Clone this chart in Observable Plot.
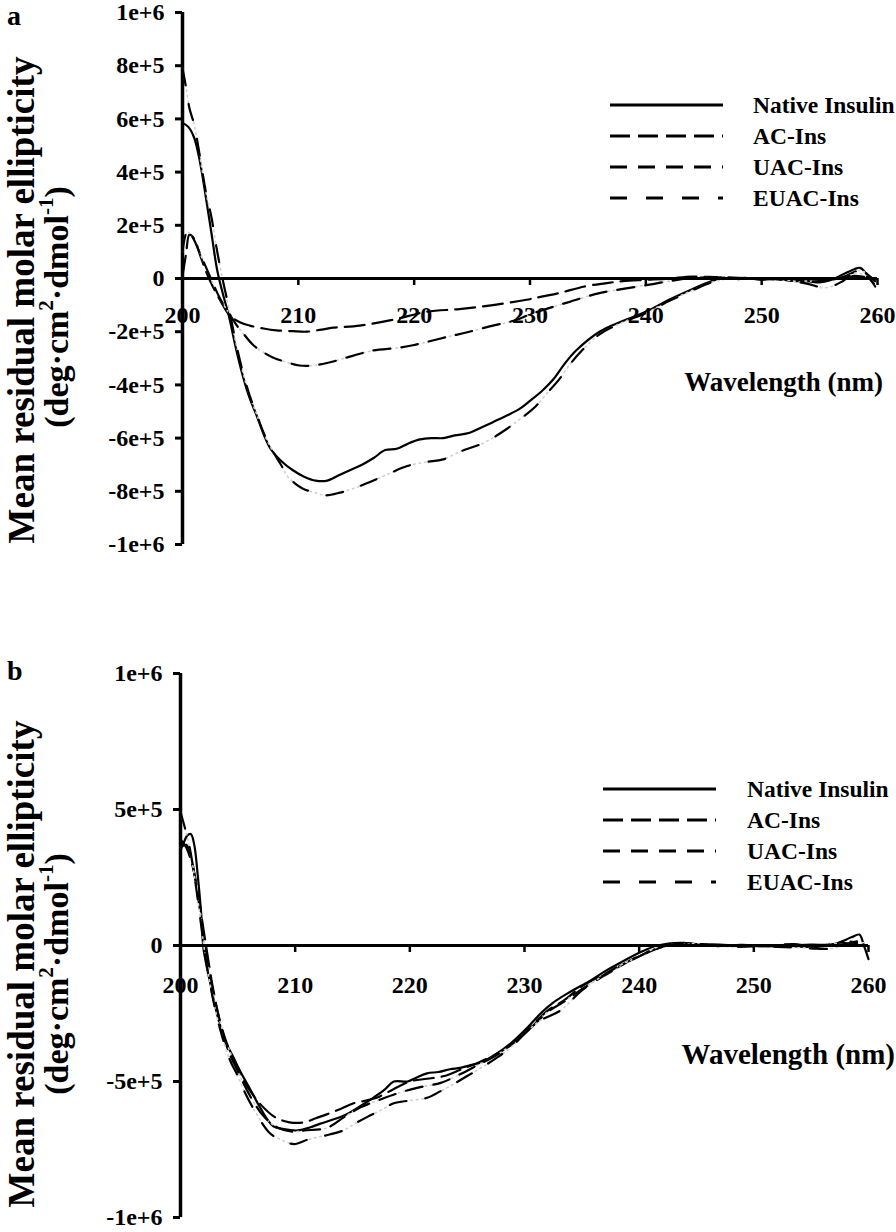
<!DOCTYPE html>
<html>
<head>
<meta charset="utf-8">
<script src="https://cdn.jsdelivr.net/npm/d3@7"></script>
<script src="https://cdn.jsdelivr.net/npm/@observablehq/plot@0.6"></script>
<style>
  html, body { margin: 0; padding: 0; background: #fff; }
  #page { position: relative; width: 896px; height: 1232px; background: #fff; overflow: hidden;
          font-family: "Liberation Serif", "Times New Roman", serif; font-weight: bold; color: #000; }
  .abs { position: absolute; white-space: nowrap; line-height: 1; }
  .ytitle { position: absolute; white-space: nowrap; line-height: 1; transform: translate(-50%, -50%) rotate(-90deg); }
  .ytitle sup { font-size: 0.62em; vertical-align: 0.7em; line-height: 0; }
  .legrow { position: absolute; display: flex; align-items: center; white-space: nowrap; }
  .legrow span { font-size: 23.5px; }
</style>
</head>
<body>
<div id="page">
  <div id="pa" style="position:absolute;left:0;top:0"></div>
  <div id="pb" style="position:absolute;left:0;top:620px"></div>
</div>
<script>
// ---------------- data ----------------
const seriesNames = ["Native Insulin", "AC-Ins", "UAC-Ins", "EUAC-Ins"];
const xTicks = [200, 210, 220, 230, 240, 250, 260];
const yTicksA = [1e6, 8e5, 6e5, 4e5, 2e5, 0, -2e5, -4e5, -6e5, -8e5, -1e6];
const yTicksB = [1e6, 5e5, 0, -5e5, -1e6];
const panelLetters = ["a", "b"];
const xLabel = "Wavelength (nm)";
const yLabel1 = "Mean residual molar ellipticity";
const yLabel2 = "(deg·cm<sup>2</sup>·dmol<sup>-1</sup>)";

// Panel a: [wavelength (nm), ellipticity]
const aNative = [[200,5.85e5],[200.5,5.7e5],[201,5.3e5],[201.5,4.4e5],[202,3.1e5],[202.5,1.7e5],[203,0.3e5],[203.5,-0.6e5],[204,-1.4e5],[204.6,-2.6e5],[205.2,-3.65e5],[205.8,-4.5e5],[206.4,-5.15e5],[207,-5.85e5],[207.6,-6.4e5],[208.5,-6.85e5],[209.5,-7.2e5],[210.5,-7.45e5],[211.5,-7.6e5],[212.5,-7.6e5],[213.5,-7.4e5],[214.5,-7.2e5],[215.5,-7.0e5],[216.5,-6.75e5],[217.5,-6.45e5],[218.5,-6.4e5],[219.5,-6.2e5],[220.5,-6.05e5],[221.5,-6.0e5],[222.5,-6.0e5],[223.5,-5.9e5],[224.8,-5.8e5],[225.8,-5.6e5],[226.8,-5.4e5],[228,-5.15e5],[229.1,-4.9e5],[230,-4.6e5],[231.1,-4.2e5],[232,-3.8e5],[233,-3.2e5],[234,-2.7e5],[236,-2.0e5],[238,-1.6e5],[240,-1.25e5],[242,-0.8e5],[244,-0.4e5],[246,-0.05e5],[247,0],[248,-0.02e5],[249,0],[250,-0.05e5],[251,0],[252,-0.05e5],[253,-0.1e5],[254,-0.1e5],[255,-0.15e5],[256,-0.05e5],[257,0.15e5],[258,0.35e5],[258.5,0.4e5],[259,0.2e5],[259.5,-0.1e5],[259.8,-0.3e5]];
const aAC = [[200,0.1e5],[200.3,0.9e5],[200.6,1.65e5],[201,1.5e5],[201.5,0.9e5],[202,0.3e5],[202.5,-0.2e5],[203.1,-0.7e5],[204.1,-1.4e5],[205,-1.65e5],[205.8,-1.77e5],[207,-1.88e5],[208.1,-1.95e5],[209.5,-1.98e5],[210.7,-2.0e5],[212,-1.92e5],[213,-1.85e5],[215.3,-1.77e5],[218.2,-1.55e5],[221.1,-1.25e5],[223.9,-1.15e5],[226.8,-1.0e5],[229.7,-0.8e5],[231,-0.68e5],[232.5,-0.55e5],[234.7,-0.3e5],[236.5,-0.18e5],[238,-0.1e5],[240,-0.05e5],[242,0],[244,0.07e5],[246,0.05e5],[248,0],[250,0],[252,-0.05e5],[254,-0.1e5],[256,-0.05e5],[258,0.1e5],[259.5,0]];
const aUAC = [[200,1.0e5],[200.4,1.75e5],[200.8,1.6e5],[201.5,0.95e5],[202.2,0.25e5],[202.8,-0.35e5],[203.3,-0.8e5],[204,-1.3e5],[204.7,-1.77e5],[205.4,-2.15e5],[206.1,-2.5e5],[207,-2.78e5],[207.8,-2.97e5],[209,-3.15e5],[210.1,-3.27e5],[211,-3.28e5],[211.9,-3.23e5],[213,-3.12e5],[214.2,-2.97e5],[215.4,-2.82e5],[216.5,-2.7e5],[218.7,-2.6e5],[220,-2.5e5],[221.6,-2.33e5],[223,-2.18e5],[224.5,-2.03e5],[226.8,-1.77e5],[228.5,-1.6e5],[230,-1.35e5],[231,-1.2e5],[232.5,-1.0e5],[234.2,-0.77e5],[236,-0.55e5],[237.9,-0.4e5],[240.3,-0.23e5],[242,-0.1e5],[243.7,0],[246,0.05e5],[249,0],[252,-0.05e5],[255,-0.1e5],[257,0.05e5],[258.5,0.3e5],[259.3,0.1e5],[259.8,-0.1e5]];
const aEUAC = [[200,7.9e5],[200.3,7.2e5],[200.6,6.4e5],[201,5.8e5],[201.5,4.6e5],[202,3.3e5],[202.5,2.3e5],[203,1.0e5],[203.5,-0.1e5],[204,-1.1e5],[204.6,-2.4e5],[205.2,-3.5e5],[205.8,-4.4e5],[206.4,-5.1e5],[207,-5.8e5],[207.8,-6.5e5],[208.5,-7.0e5],[209,-7.4e5],[209.7,-7.7e5],[210.4,-7.9e5],[211.4,-8.05e5],[212.4,-8.15e5],[213.6,-8.05e5],[214.7,-7.9e5],[215.9,-7.7e5],[217.5,-7.4e5],[219.4,-7.05e5],[221,-6.9e5],[222.5,-6.8e5],[224,-6.5e5],[225.9,-6.2e5],[227.5,-5.8e5],[229.1,-5.3e5],[230.5,-4.8e5],[231.5,-4.3e5],[232.5,-3.8e5],[233.5,-3.2e5],[234.5,-2.7e5],[236,-2.1e5],[238,-1.65e5],[240,-1.3e5],[242,-0.85e5],[244,-0.45e5],[246,-0.1e5],[247.5,0],[250,0.02e5],[252,-0.05e5],[254,-0.2e5],[255.5,-0.35e5],[257,-0.1e5],[258,0.2e5],[259,0.1e5],[259.7,-0.2e5]];

// Panel b
const bNative = [[200,3.5e5],[200.3,3.8e5],[200.6,4.05e5],[200.9,4.1e5],[201.2,3.7e5],[201.5,2.6e5],[201.8,1.2e5],[202,-0.1e5],[202.3,-0.8e5],[202.6,-1.4e5],[203,-2.2e5],[203.5,-3.0e5],[204,-3.6e5],[204.6,-4.1e5],[205.3,-4.7e5],[206.1,-5.3e5],[207,-6.0e5],[208.1,-6.65e5],[209,-6.75e5],[210.2,-6.8e5],[211.2,-6.7e5],[212.2,-6.55e5],[213.3,-6.4e5],[214.5,-6.2e5],[215.7,-5.9e5],[216.8,-5.6e5],[217.8,-5.3e5],[218.6,-5.0e5],[219.8,-5.0e5],[220.6,-4.85e5],[221.5,-4.7e5],[222.5,-4.65e5],[223.5,-4.55e5],[224.4,-4.5e5],[225.3,-4.4e5],[226.2,-4.3e5],[227.5,-4.0e5],[228.8,-3.6e5],[230.3,-3.0e5],[231.4,-2.5e5],[232.5,-2.1e5],[234,-1.7e5],[235.7,-1.3e5],[237,-0.95e5],[238.5,-0.6e5],[240.1,-0.25e5],[241.6,0],[243.6,0.1e5],[245,0.05e5],[247,0],[249,0.02e5],[251,-0.03e5],[253,0],[255,0.03e5],[257,0.05e5],[258.5,0.3e5],[259.2,0.4e5],[259.6,0],[260,-0.5e5]];
const bAC = [[200,3.9e5],[200.5,3.6e5],[201,3.0e5],[201.5,2.0e5],[202,0.6e5],[202.3,-0.2e5],[202.8,-1.5e5],[203.5,-2.9e5],[204.2,-3.9e5],[205,-4.6e5],[206,-5.3e5],[207,-5.85e5],[208.2,-6.3e5],[209.5,-6.5e5],[210.8,-6.5e5],[211.8,-6.35e5],[212.8,-6.2e5],[214,-6.0e5],[215.1,-5.8e5],[216.2,-5.7e5],[217.1,-5.6e5],[218.5,-5.3e5],[220,-5.0e5],[221.5,-4.9e5],[223,-4.8e5],[224.5,-4.55e5],[226,-4.3e5],[227.5,-4.0e5],[229,-3.6e5],[230.5,-3.0e5],[232,-2.4e5],[233.5,-2.0e5],[235,-1.5e5],[237,-1.05e5],[239,-0.6e5],[240.5,-0.3e5],[242,-0.05e5],[243.5,0.1e5],[245,0.05e5],[247,0.03e5],[249,0],[251,0.02e5],[253,-0.02e5],[255,-0.05e5],[256.5,0],[258,0.15e5],[259,0.1e5]];
const bUAC = [[200,3.6e5],[200.5,3.7e5],[200.9,3.3e5],[201.3,2.4e5],[201.7,1.3e5],[202.1,0.1e5],[202.5,-0.9e5],[203.1,-2.2e5],[203.8,-3.3e5],[204.5,-4.1e5],[205.3,-4.9e5],[206.3,-5.7e5],[207.3,-6.3e5],[208.5,-6.7e5],[209.8,-6.85e5],[210.8,-6.8e5],[212.8,-6.7e5],[214.3,-6.3e5],[215.7,-5.95e5],[217.5,-5.65e5],[219.2,-5.4e5],[221,-5.2e5],[222.7,-5.05e5],[224.3,-4.75e5],[225.9,-4.4e5],[227.5,-4.05e5],[229,-3.6e5],[230.5,-3.05e5],[232,-2.45e5],[233.5,-2.05e5],[235.2,-1.55e5],[237,-1.1e5],[239,-0.6e5],[240.5,-0.3e5],[242,-0.05e5],[243.5,0.05e5],[245.5,0.05e5],[247.5,0],[249.5,-0.03e5],[251.5,0],[253.5,0.05e5],[255.5,-0.05e5],[257.5,0.1e5],[259,0.05e5],[259.8,0.15e5]];
const bEUAC = [[200,4.9e5],[200.4,4.3e5],[200.8,3.6e5],[201.2,2.6e5],[201.6,1.4e5],[202,0.1e5],[202.4,-1.0e5],[203,-2.3e5],[203.6,-3.3e5],[204.3,-4.2e5],[205,-4.8e5],[205.5,-5.3e5],[206.5,-6.1e5],[207.8,-6.9e5],[208.8,-7.15e5],[209.9,-7.3e5],[211,-7.15e5],[211.9,-7.05e5],[213,-6.95e5],[214.2,-6.8e5],[215.2,-6.55e5],[216.3,-6.3e5],[217.5,-6.05e5],[218.6,-5.8e5],[220,-5.7e5],[221.5,-5.6e5],[222.7,-5.35e5],[223.8,-5.1e5],[225,-4.8e5],[226.2,-4.5e5],[227.5,-4.15e5],[228.8,-3.75e5],[230,-3.25e5],[231.4,-2.75e5],[233.1,-2.4e5],[235,-1.65e5],[236.5,-1.2e5],[238,-0.8e5],[240,-0.4e5],[242,0],[244,0.05e5],[246,0],[248,-0.05e5],[250,-0.03e5],[252,-0.05e5],[254,-0.08e5],[255.5,-0.12e5],[257,-0.1e5],[258,0.05e5],[259,0.15e5]];

// ---------------- styles ----------------
const dashStyles = [null, "20,8", "17,11", "17,19"];
const dotUnderlay = [false, false, true, true];
const fontStack = "'Liberation Serif', 'Times New Roman', serif";
const tickFont = 24;

function yFmt(d) { return d === 0 ? "0" : d.toExponential(); }

function lineMarks(seriesList) {
  const marks = [];
  seriesList.forEach((data, i) => {
    if (dotUnderlay[i]) {
      marks.push(Plot.line(data, {x: d => d[0], y: d => d[1], stroke: "#cfcfcf", strokeWidth: 1.6,
        strokeDasharray: "1.5,4", curve: "catmull-rom"}));
    }
    marks.push(Plot.line(data, {x: d => d[0], y: d => d[1], stroke: "#000", strokeWidth: 2.2,
      strokeDasharray: dashStyles[i] || undefined, curve: "catmull-rom"}));
  });
  return marks;
}

function panel({seriesList, yTicks, height, marginLeft, marginRight, marginTop, marginBottom, labelDy}) {
  return Plot.plot({
    width: 896, height, marginLeft, marginRight, marginTop, marginBottom,
    style: {fontFamily: fontStack, fontWeight: "bold", fontSize: tickFont + "px", color: "#000", background: "transparent", overflow: "visible"},
    x: {domain: [200, 260], axis: null},
    y: {domain: [-1e6, 1e6]},
    marks: [
      Plot.axisY({ticks: yTicks, tickFormat: yFmt, tickSize: 7, tickPadding: 11, strokeWidth: 3, label: null, fontSize: tickFont, fontWeight: "bold"}),
      Plot.ruleX([200], {y1: -1e6, y2: 1e6, strokeWidth: 3.5}),
      ...lineMarks(seriesList),
      Plot.ruleY([0], {x1: 200, x2: 260, strokeWidth: 3}),
      Plot.ruleX(xTicks, {x: d => d, y1: 0, y2: 0, insetBottom: -7, strokeWidth: 2.5}),
      Plot.text(xTicks, {x: d => d, y: 0, dy: labelDy, text: d => String(d), fontSize: tickFont, fontWeight: "bold"})
    ]
  });
}

document.getElementById("pa").appendChild(panel({
  seriesList: [aNative, aAC, aUAC, aEUAC], yTicks: yTicksA,
  height: 620, marginLeft: 182, marginRight: 19, marginTop: 12, marginBottom: 76, labelDy: 37
}));
document.getElementById("pb").appendChild(panel({
  seriesList: [bNative, bAC, bUAC, bEUAC], yTicks: yTicksB,
  height: 612, marginLeft: 180, marginRight: 28, marginTop: 53, marginBottom: 15, labelDy: 40
}));

// ---------------- overlays (titles, legends) ----------------
const page = document.getElementById("page");
function addLetter(txt, fs, left, baseline) {
  const el = document.createElement("div");
  el.className = "abs";
  el.style.cssText += `font-size:${fs}px;left:${left}px;top:${baseline - 0.8375 * fs}px;`;
  el.textContent = txt;
  page.appendChild(el);
}
function addRight(txt, fs, right, baseline) {
  const el = document.createElement("div");
  el.className = "abs";
  el.style.cssText += `font-size:${fs}px;right:${896 - right}px;top:${baseline - 0.8375 * fs}px;`;
  el.textContent = txt;
  page.appendChild(el);
}
function addYTitle(html, fs, cx, cy) {
  const el = document.createElement("div");
  el.className = "ytitle";
  el.style.cssText += `font-size:${fs}px;left:${cx}px;top:${cy}px;`;
  el.innerHTML = html;
  page.appendChild(el);
}
function addLegend(x0, lineW, textLeft, ys) {
  seriesNames.forEach((name, i) => {
    const row = document.createElement("div");
    row.className = "legrow";
    row.style.left = x0 + "px";
    row.style.top = (ys[i] - 14) + "px";
    row.style.height = "28px";
    const ns = "http://www.w3.org/2000/svg";
    const svg = document.createElementNS(ns, "svg");
    svg.setAttribute("width", lineW); svg.setAttribute("height", 8);
    const ln = document.createElementNS(ns, "line");
    ln.setAttribute("x1", 0); ln.setAttribute("x2", lineW); ln.setAttribute("y1", 4); ln.setAttribute("y2", 4);
    ln.setAttribute("stroke", "#000"); ln.setAttribute("stroke-width", i === 0 ? 3.2 : 3);
    if (dashStyles[i]) ln.setAttribute("stroke-dasharray", dashStyles[i]);
    svg.appendChild(ln);
    row.appendChild(svg);
    const sp = document.createElement("span");
    sp.textContent = name;
    sp.style.marginLeft = (textLeft - x0 - lineW) + "px";
    row.appendChild(sp);
    page.appendChild(row);
  });
}

// panel a
addLetter(panelLetters[0], 28, 7, 25);
addYTitle(yLabel1, 37, 21, 300);
addYTitle(yLabel2, 34, 57, 307);
addRight(xLabel, 27, 883, 392);
addLegend(610, 113, 753, [105, 136, 167, 198]);
// panel b
addLetter(panelLetters[1], 28, 7, 680);
addYTitle(yLabel1, 37, 21, 964);
addYTitle(yLabel2, 34, 57, 974);
addRight(xLabel, 29, 895, 1064);
addLegend(603, 113, 747, [789, 820, 851, 882]);
</script>
</body>
</html>
